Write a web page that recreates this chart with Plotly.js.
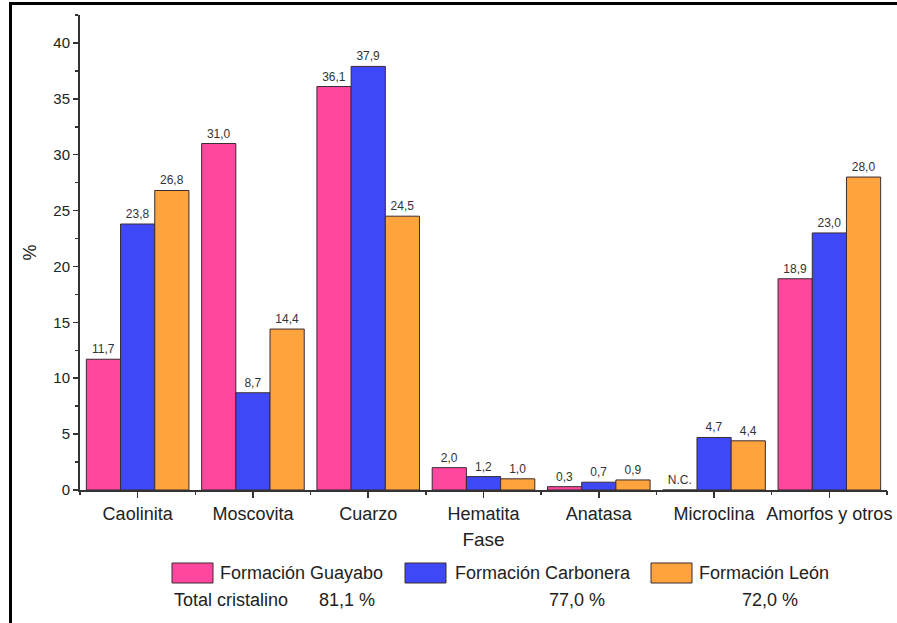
<!DOCTYPE html>
<html><head><meta charset="utf-8">
<script src="https://cdn.plot.ly/plotly-3.0.1.min.js"></script>
<style>
body{margin:0;background:#fff}
#chart{width:897px;height:623px}
#frame{position:absolute;left:9px;top:2px;width:888px;height:621px;border-left:3px solid #000;border-top:3px solid #000;pointer-events:none;box-sizing:border-box}
</style>
</head><body>
<div id="chart"></div><div id="frame"></div>
<script>
// ---- data ----
const categories = ['Caolinita','Moscovita','Cuarzo','Hematita','Anatasa','Microclina','Amorfos y otros'];
const seriesNames = ['Formación Guayabo','Formación Carbonera','Formación León'];
const guayabo   = [11.7, 31.0, 36.1, 2.0, 0.3, 0.0, 18.9];
const carbonera = [23.8,  8.7, 37.9, 1.2, 0.7, 4.7, 23.0];
const leon      = [26.8, 14.4, 24.5, 1.0, 0.9, 4.4, 28.0];
const guayaboNotes = [null, null, null, null, null, 'N.C.', null];
const totalLabel = 'Total cristalino';
const totals = [81.1, 77.0, 72.0];
const yTicks = [0,5,10,15,20,25,30,35,40];

// ---- style ----
const colors = ['#FF479F','#3F48F7','#FFA33C'];
const outline = '#3a2c30';
const txt = '#222';
const fontFam = 'Liberation Sans, Arial, sans-serif';

const fmt = v => v.toFixed(1).replace('.', ',');
const labelsOf = (vals, notes) => vals.map((v,i) => (notes && notes[i]) ? notes[i] : fmt(v));

const seriesVals = [guayabo, carbonera, leon];
const seriesNotes = [guayaboNotes, null, null];

const traces = seriesVals.map((vals, k) => ({
  type: 'bar',
  name: seriesNames[k],
  x: categories,
  y: vals,
  text: labelsOf(vals, seriesNotes[k]),
  textposition: 'outside',
  textangle: 0,
  constraintext: 'none',
  cliponaxis: false,
  textfont: {family: fontFam, size: 12, color: '#333'},
  marker: {color: colors[k], line: {color: outline, width: 1}},
  showlegend: false,
  hoverinfo: 'skip'
}));
// invisible helper trace for boundary ticks axis
traces.push({type:'scatter', x:[], y:[], xaxis:'x2', yaxis:'y', showlegend:false, hoverinfo:'skip'});

// pixel helpers for legend layout (plot area: left 80, right 887, top 15, bottom 490)
const L = 80, R = 887, T = 15, B = 490;
const px = x => (x - L) / (R - L);
const py = y => (B - y) / (B - T);

const boxX = [172, 405, 651];
const textX = [218, 453, 697];
const totalsX = [317, 547, 740];

const shapes = boxX.map((x0, k) => ({
  type: 'rect', xref: 'paper', yref: 'paper',
  x0: px(x0), x1: px(x0 + 41), y0: py(583), y1: py(563),
  fillcolor: colors[k], line: {color: outline, width: 1}
}));

const annotations = [];
seriesNames.forEach((n, k) => annotations.push({
  xref:'paper', yref:'paper', x: px(textX[k]), y: py(573), xanchor:'left', yanchor:'middle',
  text: n, showarrow:false, font:{family:fontFam, size:18, color:txt}
}));
annotations.push({
  xref:'paper', yref:'paper', x: px(172), y: py(600), xanchor:'left', yanchor:'middle',
  text: totalLabel, showarrow:false, font:{family:fontFam, size:18, color:txt}
});
totals.forEach((v, k) => annotations.push({
  xref:'paper', yref:'paper', x: px(totalsX[k]), y: py(600), xanchor:'left', yanchor:'middle',
  text: fmt(v) + ' %', showarrow:false, font:{family:fontFam, size:18, color:txt}
}));

const boundaries = categories.map((c, i) => i - 0.5).concat([categories.length - 0.5]);

const layout = {
  width: 897, height: 623,
  margin: {l: L, r: 897 - R, t: T, b: 623 - B, pad: 0},
  paper_bgcolor: 'rgba(0,0,0,0)', plot_bgcolor: 'rgba(0,0,0,0)',
  font: {family: fontFam, color: txt},
  barmode: 'group', bargap: 0.11, bargroupgap: 0,
  showlegend: false,
  xaxis: {
    type: 'category', range: [-0.5, categories.length - 0.5],
    showline: true, linecolor: '#333', linewidth: 2,
    ticks: 'outside', ticklen: 6, tickwidth: 1.5, tickcolor: '#333',
    tickfont: {size: 18, color: txt},
    title: {text: 'Fase', font: {size: 19, color: txt}, standoff: 10},
    showgrid: false, zeroline: false, fixedrange: true
  },
  xaxis2: {
    overlaying: 'x', anchor: 'y', side: 'bottom',
    range: [-0.5, categories.length - 0.5],
    tickmode: 'array', tickvals: boundaries,
    ticks: 'outside', ticklen: 4, tickwidth: 1.5, tickcolor: '#333',
    showticklabels: false, showline: false, showgrid: false, zeroline: false
  },
  yaxis: {
    range: [0, 42.5], tickmode: 'array', tickvals: yTicks,
    showline: true, linecolor: '#333', linewidth: 2,
    ticks: 'outside', ticklen: 5, tickwidth: 1.5, tickcolor: '#333',
    minor: {dtick: 2.5, tick0: 0, ticks: 'outside', ticklen: 3, tickwidth: 1.5, tickcolor: '#333', showgrid: false},
    tickfont: {size: 15, color: txt},
    title: {text: '%', font: {size: 18, color: txt}, standoff: 12},
    showgrid: false, zeroline: false, fixedrange: true
  },
  shapes: shapes,
  annotations: annotations
};

Plotly.newPlot('chart', traces, layout, {displayModeBar: false, staticPlot: true});
</script>
</body></html>
